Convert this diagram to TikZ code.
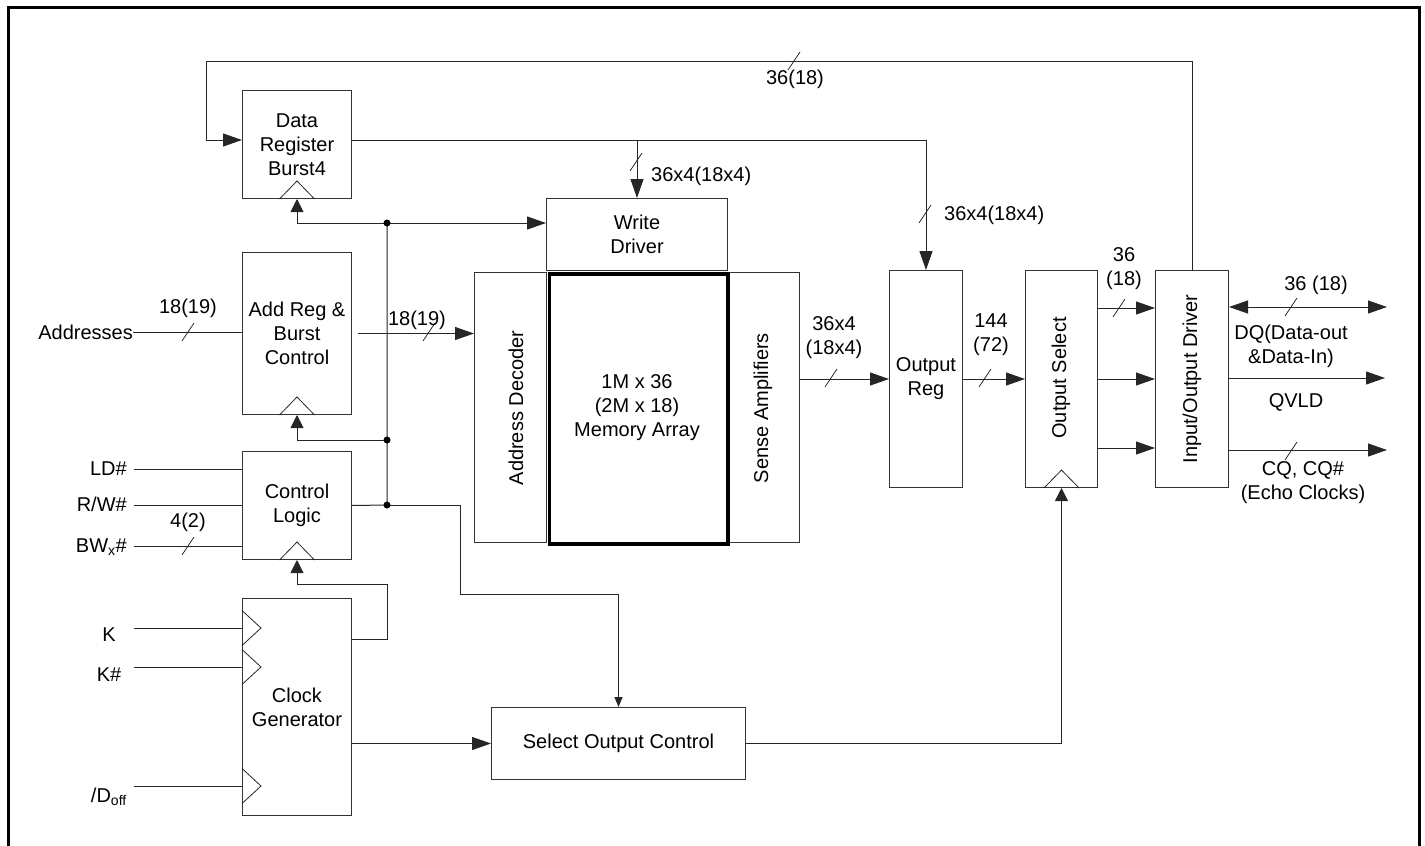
\documentclass[tikz,border=0pt]{standalone}
\usepackage{fontspec}
\setmainfont{Liberation Sans}
\usetikzlibrary{arrows.meta,calc}
\begin{document}
\begin{tikzpicture}[x=1pt,y=-1pt,
  font=\fontsize{20}{24}\selectfont,
  blk/.style={draw=black!80, line width=1pt, inner sep=0pt, anchor=north west, align=center},
  wire/.style={line width=1pt, draw=black!85},
  arr/.style={wire, -{Triangle[length=19pt,width=13pt]}},
  carr/.style={wire, -{Triangle[length=13pt,width=13pt]}},
  sarr/.style={wire, -{Triangle[length=10pt,width=8pt]}},
  darr/.style={wire, {Triangle[length=19pt,width=13pt]}-{Triangle[length=19pt,width=13pt]}},
  lbl/.style={inner sep=0pt, align=center},
  jdot/.style={circle, fill=black, inner sep=0pt, minimum size=7pt},
  busmark/.pic={\draw[line width=0.8pt, black!85] (-6,9) -- (6,-9);},
  clkb/.pic={\draw[line width=0.8pt, black!85] (-17.5,0) -- (0,-18) -- (17.5,0);},
  clkl/.pic={\draw[line width=0.8pt, black!85] (0,-17.5) -- (19,0) -- (0,17.5);},
]
\useasboundingbox (0,0) rectangle (1425,846);
% frame
\draw[line width=3pt] (8,846) -- (8,7) -- (1419,7) -- (1419,846);

% blocks
\node[blk, minimum width=109pt, minimum height=108pt] (dr) at (242,90) {Data\\Register\\Burst4};
\node[blk, minimum width=109pt, minimum height=162pt] (ar) at (242,252) {Add Reg \&\\Burst\\Control};
\node[blk, minimum width=109pt, minimum height=108pt] (cl) at (242,451) {Control\\Logic};
\node[blk, minimum width=109pt, minimum height=217pt] (cg) at (242,598) {Clock\\Generator};
\node[blk, minimum width=181pt, minimum height=72pt] (wd) at (546,198) {Write\\Driver};
\node[blk, minimum width=72pt, minimum height=270pt] (ad) at (474,272) {};
\node[blk, minimum width=71pt, minimum height=270pt] (sa) at (728,272) {};
\node[blk, draw=black, line width=3.5pt, minimum width=178.8pt, minimum height=270pt] (ma) at (547.5,272) {};
\node[blk, minimum width=73pt, minimum height=217pt] (or) at (889,270) {Output\\Reg};
\node[blk, minimum width=72pt, minimum height=217pt] (os) at (1025,270) {};
\node[blk, minimum width=73pt, minimum height=217pt] (io) at (1155,270) {};
\node[blk, minimum width=254pt, minimum height=72pt] (soc) at (491,707) {Select Output Control};

% texts inside blocks
\node[lbl] (mat) at (637,408) {1M x 36\\(2M x 18)\\Memory Array};
\node[lbl, rotate=90] (adt) at (516,408) {Address Decoder};
\node[lbl, rotate=90] (sat) at (763,408) {Sense Amplifiers};
\node[lbl, rotate=90] (ost) at (1061,378) {Output Select};
\node[lbl, rotate=90] (iot) at (1192,379) {Input/Output Driver};

% clock triangles
\pic at (dr.south) {clkb};
\pic at (ar.south) {clkb};
\pic at (cl.south) {clkb};
\pic at (os.south) {clkb};
\coordinate (ck1) at (242,628);
\coordinate (ck2) at (242,667);
\coordinate (ck3) at (242,786);
\pic at (ck1) {clkl};
\pic at (ck2) {clkl};
\pic at (ck3) {clkl};

% coordinates
\coordinate (tR) at (1192,61);
\coordinate (tL) at (206,61);
\coordinate (tD) at (206,140);
\coordinate (jA) at (387,223);
\coordinate (jB) at (387,440);
\coordinate (jC) at (387,505);
\coordinate (c1) at (460,505);
\coordinate (c2) at (460,594);
\coordinate (f1) at (387,639);
\coordinate (f2) at (387,584);
\coordinate (r1) at (0,308);
\coordinate (r3) at (0,448);
\coordinate (e1) at (1387,307);
\coordinate (e2) at (1385,378);
\coordinate (e3) at (1387,450);
\coordinate (aro) at ([xshift=6pt]ar.east);

% feedback from I/O driver to data register
\draw[arr] (io.north) -- (io.north |- tR) -- (tL) -- (tD) -- (dr.west |- tD);
\pic at (794,61) {busmark};
\node[lbl] (l3618) at (795,79) {36(18)};

% data register outputs
\draw[arr] (dr.east |- tD) -- (or.north |- tD) -- (or.north);
\draw[arr] (wd.north |- tD) -- (wd.north);
\pic at (636,162) {busmark};
\pic at (925,214) {busmark};
\node[lbl, anchor=west] (lwd) at (651,176) {36x4(18x4)};
\node[lbl, anchor=west] (lor) at (944,215) {36x4(18x4)};

% clock / control bus
\draw[wire] (cl.east) -- (jC) -- (jA);
\draw[carr] (jA) -| (dr.south);
\draw[arr] (jA) -- (wd.west |- jA);
\draw[carr] (jB) -| (ar.south);
\draw[sarr] (jC) -- (c1) -- (c2) -- (soc.north |- c2) -- (soc.north);
\node[jdot] (dA) at (jA) {};
\node[jdot] (dB) at (jB) {};
\node[jdot] (dC) at (jC) {};

% addresses
\node[lbl, anchor=base east] (addr) at (133,339) {Addresses};
\coordinate (a0) at (133,332);
\draw[wire] (a0) -- (ar.west |- a0);
\pic at (188,332) {busmark};
\node[lbl] (law) at (188,308) {18(19)};
\draw[arr] (aro) -- (ad.west |- aro);
\pic at (429,332) {busmark};
\node[lbl] (law2) at (417,320) {18(19)};

% control inputs
\node[lbl, anchor=base east] (ld) at (127,475) {LD\#};
\node[lbl, anchor=base east] (rw) at (127,511) {R/W\#};
\node[lbl, anchor=base east] (bw) at (127,552) {BW\textsubscript{x}\#};
\coordinate (i1) at (134,469);
\coordinate (i2) at (134,505);
\coordinate (i3) at (134,546);
\draw[wire] (i1) -- (cl.west |- i1);
\draw[wire] (i2) -- (cl.west |- i2);
\draw[wire] (i3) -- (cl.west |- i3);
\pic at (188,546) {busmark};
\node[lbl] (lbw) at (188,522) {4(2)};

% clock inputs
\node[lbl, anchor=base] (k) at (109,641) {K};
\node[lbl, anchor=base] (kn) at (109,681) {K\#};
\node[lbl, anchor=base east] (doff) at (127,802) {/D\textsubscript{off}};
\coordinate (k1) at (134,628);
\coordinate (k2) at (134,667);
\coordinate (k3) at (134,786);
\draw[wire] (k1) -- (ck1);
\draw[wire] (k2) -- (ck2);
\draw[wire] (k3) -- (ck3);

% clock generator outputs
\draw[carr] (cg.east |- f1) -- (f1) -- (f2) -- (cl.south |- f2) -- (cl.south);
\draw[arr] (cg.east |- soc.west) -- (soc.west);
\draw[carr] (soc.east) -- (os.south |- soc.east) -- (os.south);

% data path
\draw[arr] (sa.east |- or.west) -- (or.west);
\pic at (831,378) {busmark};
\node[lbl] (lsa) at (834,338) {36x4\\(18x4)};
\draw[arr] (or.east) -- (os.west);
\pic at (985,378) {busmark};
\node[lbl] (lor2) at (991,335) {144\\(72)};
\draw[arr] (os.east |- r1) -- (io.west |- r1);
\draw[arr] (os.east) -- (io.west);
\draw[arr] (os.east |- r3) -- (io.west |- r3);
\pic at (1119,308) {busmark};
\node[lbl] (los) at (1124,269) {36\\(18)};

% outputs
\draw[darr] (io.east |- e1) -- (e1);
\draw[arr] (io.east |- e2) -- (e2);
\draw[arr] (io.east |- e3) -- (e3);
\pic at (1291,307) {busmark};
\pic at (1291,451) {busmark};
\node[lbl] (ldq) at (1316,285) {36 (18)};
\node[lbl] (ldq2) at (1291,346) {DQ(Data-out\\\&Data-In)};
\node[lbl] (lqv) at (1296,402) {QVLD};
\node[lbl] (lcq) at (1303,483) {CQ, CQ\#\\(Echo Clocks)};
\end{tikzpicture}
\end{document}
